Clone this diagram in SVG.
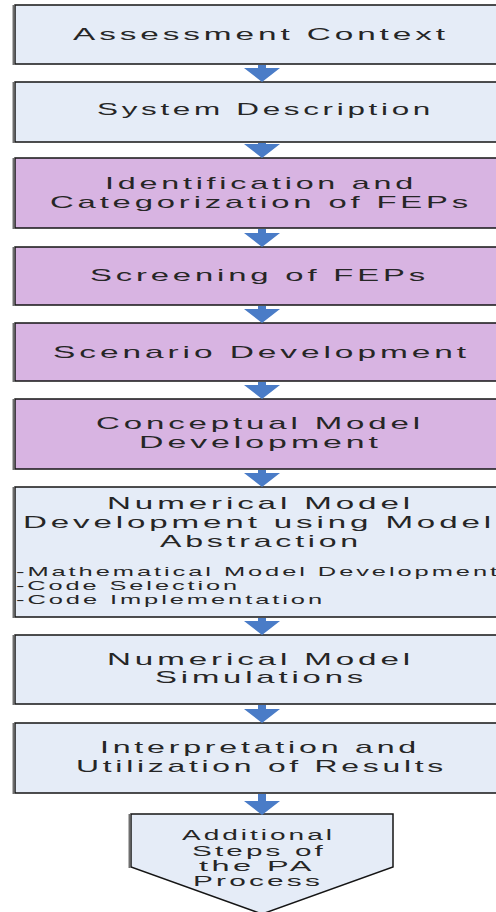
<svg xmlns="http://www.w3.org/2000/svg" width="496" height="912" viewBox="0 0 496 912">
<style>
.bl{fill:#e5ecf7}
.pu{fill:#d8b4e2}
.bd{fill:none;stroke:#151515;stroke-width:1.5}
.sh{stroke:#6e6e6e;stroke-width:2}
.t{font-family:"Liberation Sans",Arial,sans-serif;font-size:17px;fill:#262626;letter-spacing:2px}
.s{font-family:"Liberation Sans",Arial,sans-serif;font-size:13px;fill:#262626;letter-spacing:1.5px}
.p{font-family:"Liberation Sans",Arial,sans-serif;font-size:14px;fill:#262626;letter-spacing:1.5px}
.arr{fill:#4a7cc7}
</style>
<rect width="496" height="912" fill="#ffffff"/>
<g id="n1">
<rect class="bl" x="15" y="5" width="500" height="59"/>
<rect class="bd" x="15" y="5" width="500" height="59"/>
<line class="sh" x1="13.5" y1="5" x2="13.5" y2="65"/>
<text class="t" x="73" y="40" textLength="376" lengthAdjust="spacingAndGlyphs">Assessment Context</text>
</g>
<g id="n2">
<rect class="bl" x="15" y="82" width="500" height="60"/>
<rect class="bd" x="15" y="82" width="500" height="60"/>
<line class="sh" x1="13.5" y1="82" x2="13.5" y2="143"/>
<text class="t" x="97" y="115" textLength="337" lengthAdjust="spacingAndGlyphs">System Description</text>
</g>
<g id="n3">
<rect class="pu" x="15" y="158" width="500" height="70"/>
<rect class="bd" x="15" y="158" width="500" height="70"/>
<line class="sh" x1="13.5" y1="158" x2="13.5" y2="229"/>
<text class="t" x="105" y="189" textLength="312" lengthAdjust="spacingAndGlyphs">Identification and</text>
<text class="t" x="50" y="208" textLength="422" lengthAdjust="spacingAndGlyphs">Categorization of FEPs</text>
</g>
<g id="n4">
<rect class="pu" x="15" y="247" width="500" height="58"/>
<rect class="bd" x="15" y="247" width="500" height="58"/>
<line class="sh" x1="13.5" y1="247" x2="13.5" y2="306"/>
<text class="t" x="90" y="281" textLength="339" lengthAdjust="spacingAndGlyphs">Screening of FEPs</text>
</g>
<g id="n5">
<rect class="pu" x="15" y="323" width="500" height="58"/>
<rect class="bd" x="15" y="323" width="500" height="58"/>
<line class="sh" x1="13.5" y1="323" x2="13.5" y2="382"/>
<text class="t" x="53" y="358" textLength="417" lengthAdjust="spacingAndGlyphs">Scenario Development</text>
</g>
<g id="n6">
<rect class="pu" x="15" y="399" width="500" height="70"/>
<rect class="bd" x="15" y="399" width="500" height="70"/>
<line class="sh" x1="13.5" y1="399" x2="13.5" y2="470"/>
<text class="t" x="96" y="429" textLength="328" lengthAdjust="spacingAndGlyphs">Conceptual Model</text>
<text class="t" x="139" y="448" textLength="243" lengthAdjust="spacingAndGlyphs">Development</text>
</g>
<g id="n7">
<rect class="bl" x="15" y="487" width="500" height="130"/>
<rect class="bd" x="15" y="487" width="500" height="130"/>
<line class="sh" x1="13.5" y1="487" x2="13.5" y2="618"/>
<text class="t" x="107" y="509" textLength="307" lengthAdjust="spacingAndGlyphs">Numerical Model</text>
<text class="t" x="23" y="528" textLength="472" lengthAdjust="spacingAndGlyphs">Development using Model</text>
<text class="t" x="160" y="547" textLength="202" lengthAdjust="spacingAndGlyphs">Abstraction</text>
<text class="s" x="16" y="576" textLength="484" lengthAdjust="spacingAndGlyphs">-Mathematical Model Development</text>
<text class="s" x="16" y="590" textLength="224" lengthAdjust="spacingAndGlyphs">-Code Selection</text>
<text class="s" x="16" y="604" textLength="309" lengthAdjust="spacingAndGlyphs">-Code Implementation</text>
</g>
<g id="n8">
<rect class="bl" x="15" y="635" width="500" height="69"/>
<rect class="bd" x="15" y="635" width="500" height="69"/>
<line class="sh" x1="13.5" y1="635" x2="13.5" y2="705"/>
<text class="t" x="107" y="665" textLength="307" lengthAdjust="spacingAndGlyphs">Numerical Model</text>
<text class="t" x="155" y="683" textLength="212" lengthAdjust="spacingAndGlyphs">Simulations</text>
</g>
<g id="n9">
<rect class="bl" x="15" y="723" width="500" height="70"/>
<rect class="bd" x="15" y="723" width="500" height="70"/>
<line class="sh" x1="13.5" y1="723" x2="13.5" y2="794"/>
<text class="t" x="100" y="753" textLength="320" lengthAdjust="spacingAndGlyphs">Interpretation and</text>
<text class="t" x="76" y="772" textLength="371" lengthAdjust="spacingAndGlyphs">Utilization of Results</text>
</g>
<g id="n10">
<polygon class="bl" points="131,814 393,814 393,867 262,914 131,867"/>
<polygon class="bd" points="131,814 393,814 393,867 262,914 131,867"/>
<line class="sh" x1="129.5" y1="814" x2="129.5" y2="868"/>
<text class="p" x="182" y="840" textLength="153" lengthAdjust="spacingAndGlyphs">Additional</text>
<text class="p" x="192" y="856" textLength="134" lengthAdjust="spacingAndGlyphs">Steps of</text>
<text class="p" x="199" y="871" textLength="116" lengthAdjust="spacingAndGlyphs">the PA</text>
<text class="p" x="193" y="886" textLength="130" lengthAdjust="spacingAndGlyphs">Process</text>
</g>
<g id="connectors">
<path class="arr" d="M258,65 H266 V68 H280 L262,82 L244,68 H258 Z"/>
<path class="arr" d="M258,143 H266 V144 H280 L262,158 L244,144 H258 Z"/>
<path class="arr" d="M258,229 H266 V233 H280 L262,247 L244,233 H258 Z"/>
<path class="arr" d="M258,306 H266 V309 H280 L262,323 L244,309 H258 Z"/>
<path class="arr" d="M258,382 H266 V385 H280 L262,399 L244,385 H258 Z"/>
<path class="arr" d="M258,470 H266 V473 H280 L262,487 L244,473 H258 Z"/>
<path class="arr" d="M258,618 H266 V621 H280 L262,635 L244,621 H258 Z"/>
<path class="arr" d="M258,705 H266 V709 H280 L262,723 L244,709 H258 Z"/>
<path class="arr" d="M258,794 H266 V801 H280 L262,815 L244,801 H258 Z"/>
</g>
</svg>
